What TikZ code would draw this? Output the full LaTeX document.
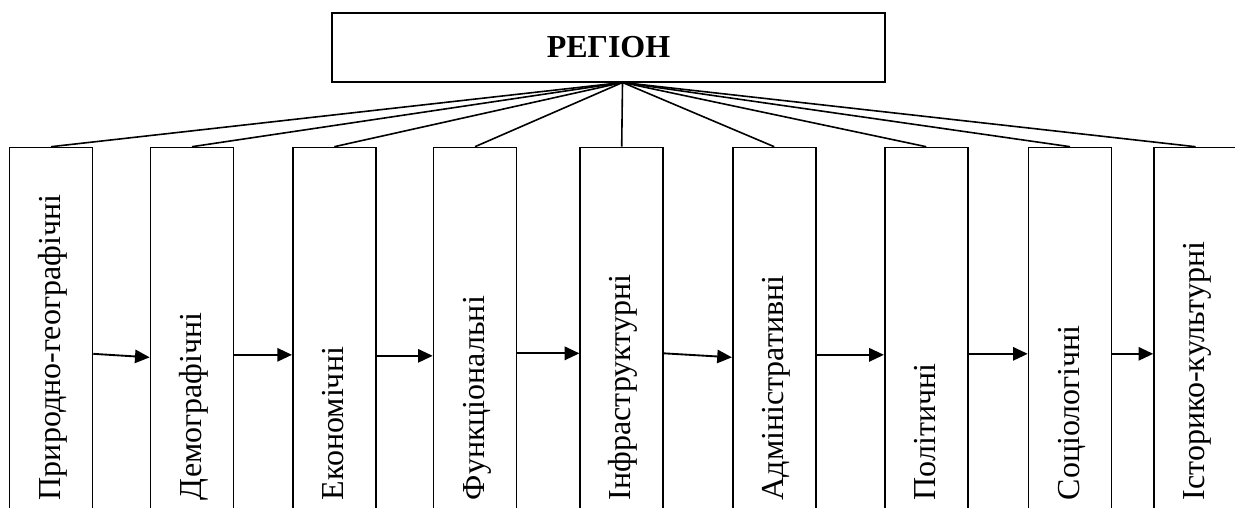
\documentclass[tikz,border=0pt]{standalone}
\usepackage{fontspec}
\setmainfont{Liberation Serif}
\usetikzlibrary{arrows.meta,calc}

\begin{document}
\begin{tikzpicture}[x=0.75pt,y=-0.75pt,line width=1.2pt,
	region/.style={draw,rectangle,minimum width=414.75pt,minimum height=51.75pt,inner sep=0pt,font=\fontsize{24}{28}\selectfont\bfseries},
	factor/.style={draw,rectangle,anchor=north,minimum width=62.25pt,minimum height=311pt,inner sep=0pt},
	flabel/.style={rotate=90,anchor=base west,inner sep=0pt,font=\fontsize{24}{28}\selectfont},
	arr/.style={-{Triangle[length=11pt,width=10pt]},line width=1.4pt}]
	% Frame
	\useasboundingbox (0,0) rectangle (1235,507);
	\clip (0,0) rectangle (1235,507);
	% Top box
	\node [region] (reg) at (608.5,47.5) {РЕГІОН};
	\coordinate (hub) at (622.5,82.5);
	% Factor boxes (open at the bottom)
	\foreach \i/\x in {1/51,2/192,3/334.3,4/475,5/621.7,6/774.2,7/926.2,8/1070,9/1195.5}
		\node [factor] (f\i) at (\x,146.7) {};
	% Labels
	\foreach \i/\t in {1/Природно-географічні,2/Демографічні,3/Економічні,4/Функціональні,
		5/Інфраструктурні,6/Адміністративні,7/Політичні,8/Соціологічні,9/Історико-культурні}
		\node [flabel] (t\i) at ($(f\i.north)+(9,354.3)$) {\t};
	% Lines from the top box
	\foreach \i in {1,...,9}
		\draw (hub) -- (f\i.north);
	% Arrows between neighbours
	\foreach \a/\b/\s/\e in {1/2/-1/2.5,2/3/0/0,3/4/1/1,4/5/-1.5/-1.5,
		5/6/-1.5/2.5,6/7/0/0,7/8/-1/-1,8/9/-1/-1}
		\draw [arr] ($(f\a.east)+(0,\s)$) -- ($(f\b.west)+(0,\e)$);
\end{tikzpicture}
\end{document}
